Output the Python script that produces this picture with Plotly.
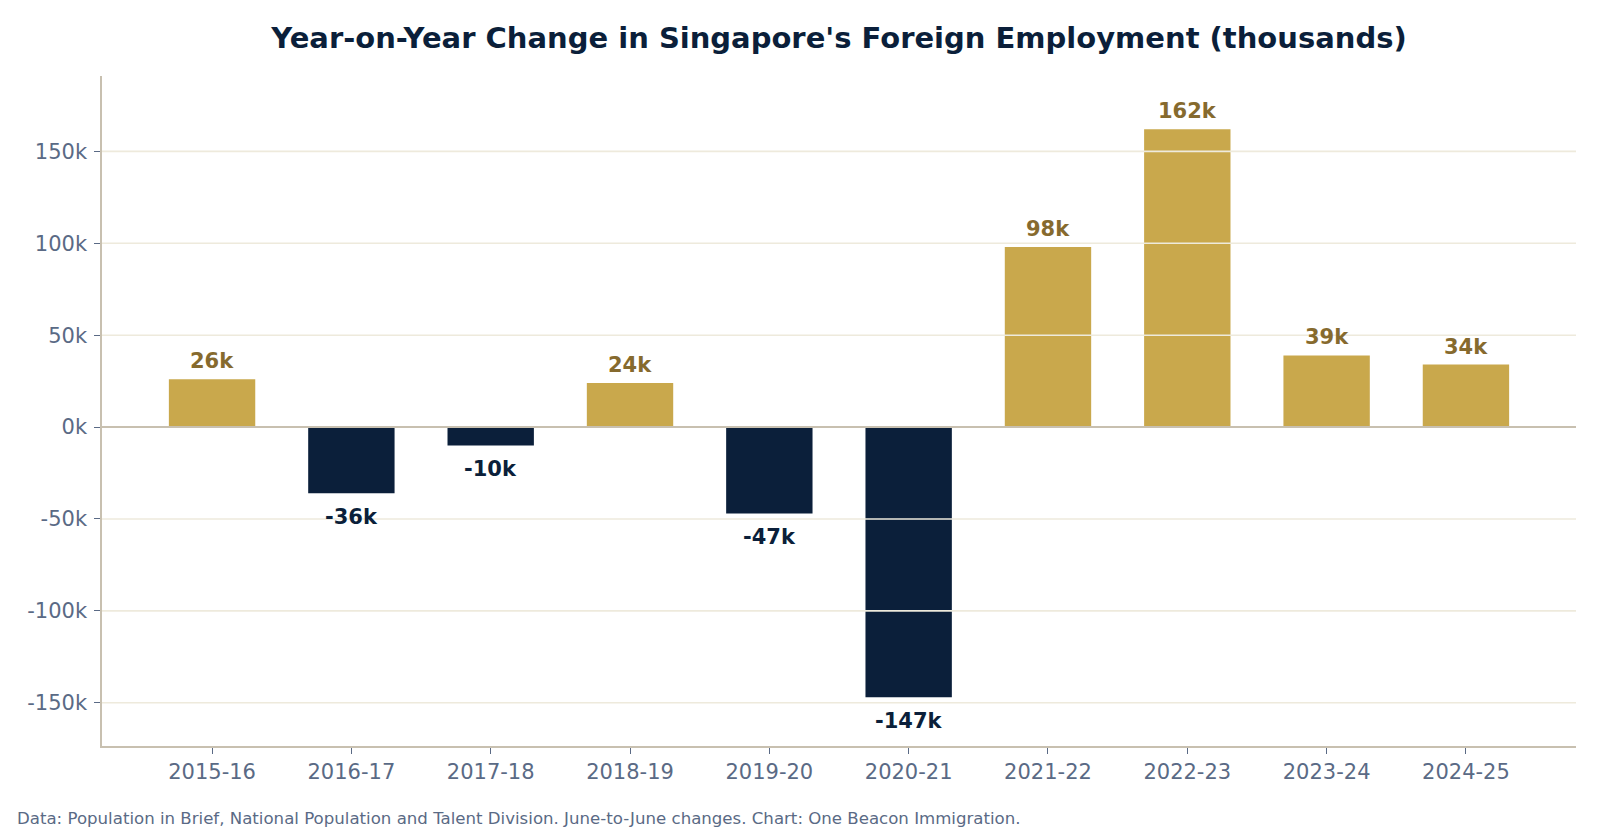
import plotly.graph_objects as go

# ---- data (thousands) ----
periods = ["2015-16", "2016-17", "2017-18", "2018-19", "2019-20",
           "2020-21", "2021-22", "2022-23", "2023-24", "2024-25"]
changes = [26, -36, -10, 24, -47, -147, 98, 162, 39, 34]
y_ticks = [-150, -100, -50, 0, 50, 100, 150]
y_tick_labels = ["-150k", "-100k", "-50k", "0k", "50k", "100k", "150k"]

GOLD = "#C9A84C"
NAVY = "#0B1F3A"
GOLD_TXT = "#866A2E"
SLATE = "#5A6A85"
SPINE = "#C8C0B0"
GRID = "#EEEADC"
FONT = "DejaVu Sans"

bar_colors = [GOLD if v >= 0 else NAVY for v in changes]

fig = go.Figure()
fig.add_trace(go.Bar(
    x=list(range(len(periods))), y=changes,
    marker=dict(color=bar_colors, line=dict(width=0)),
    width=0.62, hoverinfo="skip",
))

# gridlines drawn above bars (as in reference)
for t in y_ticks:
    if t == 0:
        continue
    fig.add_shape(type="line", xref="paper", x0=0, x1=1, yref="y", y0=t, y1=t,
                  line=dict(color=GRID, width=1.6), layer="above")
# zero line
fig.add_shape(type="line", xref="paper", x0=0, x1=1, yref="y", y0=0, y1=0,
              line=dict(color=SPINE, width=2), layer="above")

# value labels
for i, v in enumerate(changes):
    pos = v >= 0
    fig.add_annotation(
        x=i, y=v, xref="x", yref="y", text=f"<b>{v}k</b>", showarrow=False,
        yanchor="middle", yshift=18 if pos else -24,
        font=dict(family=FONT, size=21, color=GOLD_TXT if pos else NAVY),
    )

# footnote
fig.add_annotation(
    xref="paper", yref="paper", x=-0.059, y=-0.1075, xanchor="left", yanchor="middle",
    text="Data: Population in Brief, National Population and Talent Division. "
         "June-to-June changes. Chart: One Beacon Immigration.",
    showarrow=False, font=dict(family=FONT, size=16.6, color=SLATE),
)

fig.update_layout(
    width=1600, height=832,
    margin=dict(l=102, r=24, t=76, b=86),
    paper_bgcolor="white", plot_bgcolor="white",
    showlegend=False,
    title=dict(text="<b>Year-on-Year Change in Singapore's Foreign Employment (thousands)</b>",
               x=0.5, xref="paper", xanchor="center",
               y=1 - 38 / 832, yref="container", yanchor="middle",
               font=dict(family=FONT, size=29, color=NAVY)),
    font=dict(family=FONT, color=SLATE),
    xaxis=dict(
        tickmode="array", tickvals=list(range(len(periods))), ticktext=periods,
        range=[-0.79, len(periods) - 1 + 0.79],
        showgrid=False, zeroline=False,
        showline=True, linecolor=SPINE, linewidth=1.5,
        ticks="outside", ticklen=6, tickwidth=1.2, tickcolor=SLATE,
        tickfont=dict(family=FONT, size=21, color=SLATE),
    ),
    yaxis=dict(
        tickmode="array", tickvals=y_ticks, ticktext=y_tick_labels,
        range=[-173.5, 191],
        showgrid=False, zeroline=False,
        showline=True, linecolor=SPINE, linewidth=1.5,
        ticks="outside", ticklen=6, tickwidth=1.2, tickcolor=SLATE,
        ticklabelstandoff=3,
        tickfont=dict(family=FONT, size=21, color=SLATE),
    ),
)

fig.write_html("out.html")
